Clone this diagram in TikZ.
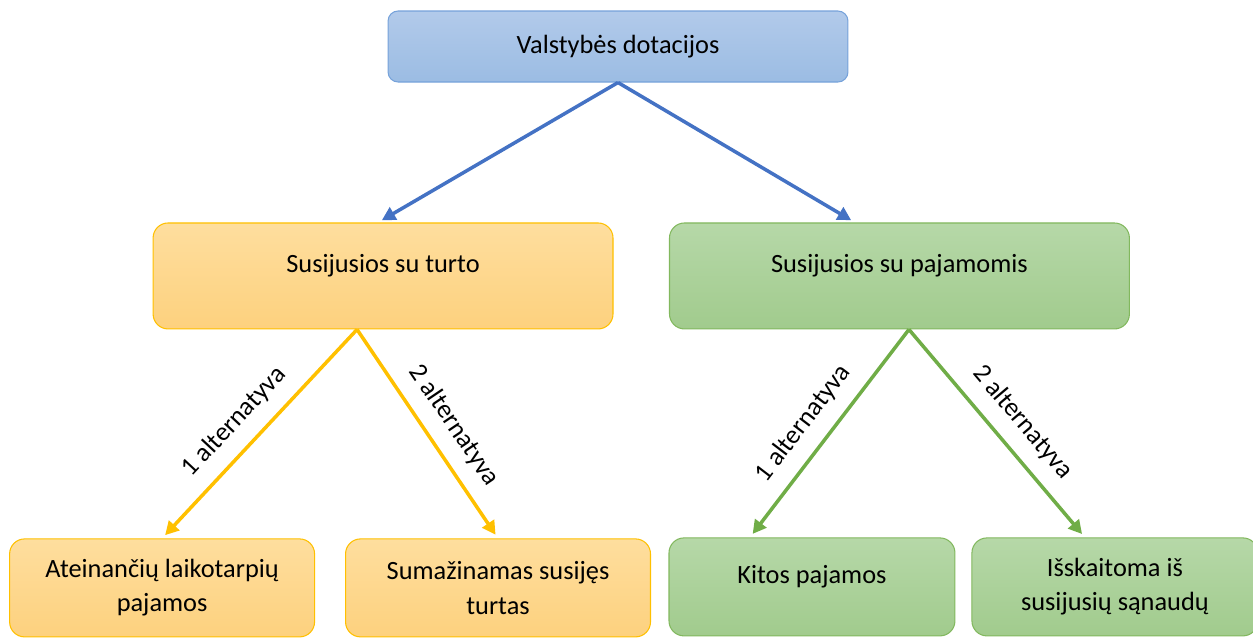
\documentclass[tikz,border=0pt]{standalone}
\usepackage{fontspec}
\setmainfont{Carlito}
\usetikzlibrary{arrows.meta,positioning}

\definecolor{bluetop}{HTML}{B2CAEA}
\definecolor{bluebot}{HTML}{9BBCE3}
\definecolor{bluedraw}{HTML}{76A2DA}
\definecolor{blueline}{HTML}{4472C4}
\definecolor{orangetop}{HTML}{FEDE9E}
\definecolor{orangebot}{HTML}{FDD17E}
\definecolor{orangeline}{HTML}{FFC000}
\definecolor{greentop}{HTML}{B6D8A8}
\definecolor{greenbot}{HTML}{A1CB8D}
\definecolor{greendraw}{HTML}{82B85E}
\definecolor{greenline}{HTML}{70AD47}

\begin{document}
\begin{tikzpicture}[->,>={Triangle[length=0.27cm,width=0.28cm]},shorten >=2.5pt,
                    x=0.02cm,y=-0.02cm,node distance=4.59cm,line width=2pt,
                    every node/.style={font=\fontsize{15}{19.5}\selectfont}]
  \tikzstyle{box}=[rectangle,draw,line width=0.6pt,align=center,text=black,rounded corners=0.3cm]
  \tikzstyle{topbox}=[box,draw=bluedraw,top color=bluetop,bottom color=bluebot,
                      minimum width=9.2cm,minimum height=1.42cm,rounded corners=0.2cm]
  \tikzstyle{orangebox}=[box,draw=orangeline,top color=orangetop,bottom color=orangebot]
  \tikzstyle{greenbox}=[box,draw=greendraw,top color=greentop,bottom color=greenbot]
  \tikzstyle{midsize}=[minimum width=9.2cm,minimum height=2.12cm,text depth=0.5cm]
  \tikzstyle{lowsize}=[minimum height=1.96cm]
  \tikzstyle{alt}=[pos=0.53,sloped,above=4.5pt,text=black]

  \useasboundingbox (0,0) rectangle (1253,637);

  \node[topbox] (top) at (618,46.5) {Valstybės dotacijos};
  \node[orangebox,midsize] (turt) [below of=top, xshift=-4.7cm] {Susijusios su turto};
  \node[greenbox,midsize] (pajam) [below of=top, xshift=5.63cm] {Susijusios su pajamomis};

  \node[orangebox,lowsize,minimum width=6.1cm] (ateinan) [node distance=6.24cm, below of=turt, xshift=-4.42cm]
       {Ateinančių laikotarpių\\pajamos};
  \node[orangebox,lowsize,minimum width=6.1cm] (sumazin) [node distance=6.24cm, below of=turt, xshift=2.3cm]
       {Sumažinamas susijęs\\turtas};
  \node[greenbox,lowsize,minimum width=5.72cm,text depth=0.48cm] (kitos) [node distance=6.22cm, below of=pajam, xshift=-1.75cm]
       {Kitos pajamos};
  \node[greenbox,lowsize,minimum width=5.72cm] (isskait) [node distance=6.22cm, below of=pajam, xshift=4.31cm]
       {Išskaitoma iš\\susijusių sąnaudų};

  % valstybes dotacijos
  \draw[blueline] (top.south) -- ([xshift=-0.1cm]turt.north);
  \draw[blueline] (top.south) -- ([xshift=-0.89cm]pajam.north);

  % turto dalis
  \draw[orangeline] ([xshift=-0.52cm]turt.south) -- (ateinan.north) node[alt] {1 alternatyva};
  \draw[orangeline] ([xshift=-0.52cm]turt.south) -- (sumazin.north) node[alt] {2 alternatyva};

  % pajamu dalis
  \draw[greenline] ([xshift=0.19cm]pajam.south) -- ([xshift=-1.24cm]kitos.north) node[alt] {1 alternatyva};
  \draw[greenline] ([xshift=0.19cm]pajam.south) -- ([xshift=-0.6cm]isskait.north) node[alt] {2 alternatyva};
\end{tikzpicture}
\end{document}
